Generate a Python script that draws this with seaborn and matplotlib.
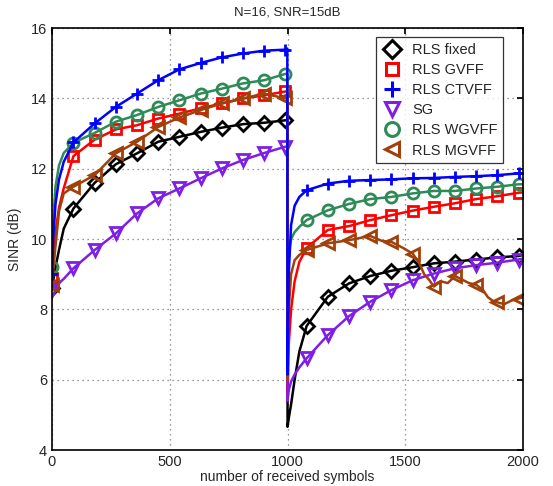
import matplotlib
matplotlib.use("Agg")
import matplotlib.pyplot as plt
from matplotlib.lines import Line2D
import seaborn as sns

# symbol index grid shared by most curves
n_sym = [1, 5, 15, 30, 50, 91, 181, 271, 361, 451, 541, 631, 721, 811, 901, 991, 999,
         1000, 1005, 1015, 1030, 1050, 1081, 1171, 1261, 1351, 1441, 1531, 1621, 1711,
         1801, 1891, 1981, 2000]

rls_fixed = [8.6, 8.8, 9.2, 9.7, 10.3, 10.87, 11.6, 12.13, 12.44, 12.77, 12.91, 13.05, 13.17,
             13.27, 13.31, 13.38, 13.38,
             4.66, 4.9, 5.3, 6.0, 6.8, 7.53, 8.36, 8.74, 8.95, 9.10, 9.20, 9.31, 9.36,
             9.42, 9.48, 9.52, 9.55]
rls_gvff = [8.9, 9.5, 10.2, 10.9, 11.45, 12.36, 12.83, 13.12, 13.24, 13.43, 13.57, 13.72, 13.86,
            14.0, 14.09, 14.2, 14.2,
            5.5, 7.0, 8.0, 8.8, 9.35, 9.75, 10.26, 10.37, 10.54, 10.68, 10.81, 10.92, 11.02,
            11.14, 11.22, 11.32, 11.33]
rls_ctvff = [9.0, 10.0, 11.0, 11.7, 12.2, 12.75, 13.29, 13.76, 14.14, 14.52, 14.83, 15.01, 15.17,
             15.28, 15.36, 15.39, 15.42,
             6.15, 9.0, 10.4, 10.95, 11.2, 11.39, 11.58, 11.66, 11.68, 11.70, 11.73, 11.74, 11.77,
             11.79, 11.82, 11.87, 11.87]
sg = [8.55, 8.57, 8.65, 8.75, 8.87, 9.17, 9.69, 10.16, 10.73, 11.16, 11.44, 11.73, 12.01,
      12.25, 12.45, 12.63, 12.63,
      5.4, 5.7, 5.95, 6.15, 6.35, 6.61, 7.27, 7.81, 8.22, 8.55, 8.83, 9.02, 9.17,
      9.26, 9.33, 9.42, 9.45]
rls_wgvff = [9.2, 10.5, 11.5, 12.1, 12.45, 12.74, 13.02, 13.34, 13.53, 13.76, 13.95, 14.14, 14.28,
             14.43, 14.52, 14.7, 14.7,
             8.5, 9.6, 10.0, 10.2, 10.35, 10.54, 10.82, 11.0, 11.14, 11.2, 11.3, 11.37, 11.37,
             11.44, 11.49, 11.56, 11.56]

# MGVFF is jagged, so it has its own denser grid
n_sym_mg = [1, 5, 15, 30, 50, 91, 181, 271, 361, 451, 541, 631, 721, 811, 901, 991, 999,
            1000, 1005, 1015, 1030, 1050, 1081, 1171, 1261, 1351, 1400, 1441, 1490, 1531,
            1560, 1580, 1600, 1621, 1650, 1680, 1711, 1740, 1770, 1801, 1830, 1850, 1870,
            1891, 1920, 1950, 1981, 2000]
rls_mgvff = [8.7, 9.1, 9.8, 10.8, 11.3, 11.49, 11.82, 12.44, 12.77, 13.19, 13.46, 13.67, 13.86,
             14.0, 14.14, 14.0, 14.0,
             6.0, 8.0, 9.0, 9.4, 9.55, 9.69, 9.88, 9.97, 10.09, 9.95, 9.92, 9.75, 9.59,
             9.3, 9.0, 8.85, 8.65, 8.8, 8.75, 8.95, 8.85, 8.75, 8.7, 8.55, 8.35, 8.25,
             8.2, 8.15, 8.25, 8.31, 8.35]

# symbols where the markers sit
marker_at = [1, 91, 181, 271, 361, 451, 541, 631, 721, 811, 901, 991,
             1081, 1171, 1261, 1351, 1441, 1531, 1621, 1711, 1801, 1891, 1981]

series = [
    ("RLS fixed", n_sym, rls_fixed, "black", "D", 7, 2),
    ("RLS GVFF", n_sym, rls_gvff, "#ff0000", "s", 7, 2),
    ("RLS CTVFF", n_sym, rls_ctvff, "#0000ff", "+", 9, 5),
    ("SG", n_sym, sg, "#7f1fe6", "v", 8, 2),
    ("RLS WGVFF", n_sym, rls_wgvff, "#2e8b57", "o", 8, 2),
    ("RLS MGVFF", n_sym_mg, rls_mgvff, "#a0400a", "<", 8, 2),
]

sns.set_theme(style="white")
plt.rcParams["font.family"] = ["Liberation Sans", "DejaVu Sans"]

fig = plt.figure(figsize=(5.53, 4.86), dpi=100)
ax = fig.add_axes([0.094, 0.074, 0.852, 0.868])

handles = []
for name, xs, ys, col, mk, ms, z in series:
    idx = [i for i, v in enumerate(xs) if v in marker_at]
    sns.lineplot(x=xs, y=ys, ax=ax, color=col, lw=1.8, marker=mk, markevery=idx,
                 markersize=ms, markerfacecolor="none", markeredgecolor=col,
                 markeredgewidth=2.0, estimator=None, sort=False, zorder=z)
    handles.append(Line2D([], [], ls="none", marker=mk, color=col, markersize=ms + 2,
                          markerfacecolor="none", markeredgewidth=2.2, label=name))

ax.set_xlim(0, 2000)
ax.set_ylim(4, 16)
ax.set_xticks([0, 500, 1000, 1500, 2000])
ax.set_yticks([4, 6, 8, 10, 12, 14, 16])
ax.grid(True, ls=(0, (1, 3)), color="#777777", lw=0.9)
ax.tick_params(direction="in", top=True, right=True, labelsize=10.5, length=4, color="black")
for s in ax.spines.values():
    s.set_color("black")
    s.set_linewidth(1.2)
    s.set_zorder(6)

ax.set_title("N=16, SNR=15dB", fontsize=9.5, pad=9)
ax.set_xlabel("number of received symbols", fontsize=10, labelpad=1)
ax.set_ylabel("SINR (dB)", fontsize=10, labelpad=6)

leg = ax.legend(handles=handles, loc="upper right", bbox_to_anchor=(0.958, 0.979),
                borderaxespad=0, fontsize=10.5, frameon=True, fancybox=False,
                handlelength=1.5, handletextpad=0.6, labelspacing=0.42, borderpad=0.4)
leg.get_frame().set_edgecolor("black")
leg.get_frame().set_linewidth(0.9)
leg.set_zorder(10)

fig.savefig("out.png", dpi=100)
